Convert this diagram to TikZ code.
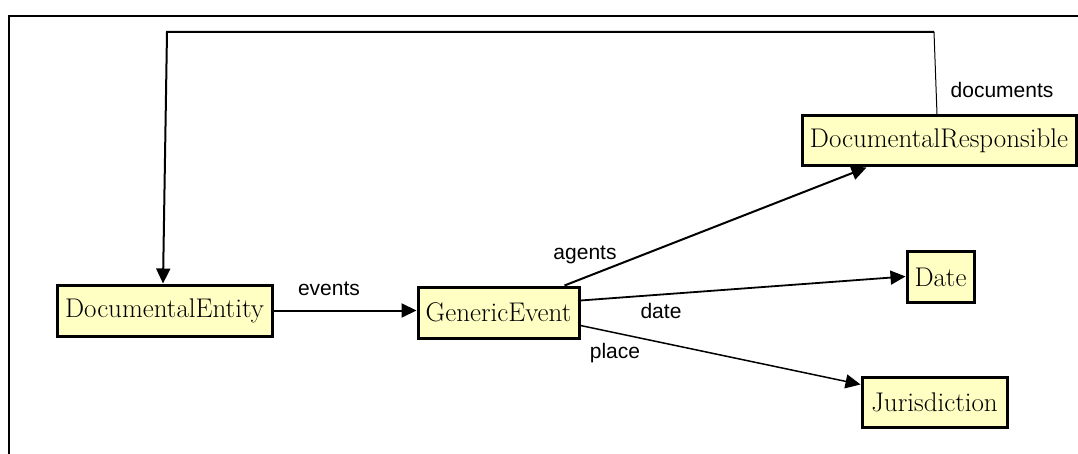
\documentclass[tikz,border=0pt]{standalone}
\usepackage{fontspec}
\newfontfamily\labfont{Liberation Sans}
\usetikzlibrary{arrows.meta,calc}
\definecolor{boxfill}{HTML}{FFFFC4}
\begin{document}
\begin{tikzpicture}[x=1pt,y=-1pt,
  cls/.style={draw=black,line width=3pt,fill=boxfill,inner sep=0pt,
    font=\fontsize{27}{30}\selectfont},
  conn/.style={line width=2pt,-{Triangle[length=15pt,width=14pt]}},
  lab/.style={font=\labfont\fontsize{21}{24}\selectfont,inner sep=0pt}]
\useasboundingbox (0,0) rectangle (1078,454);
% frame
\draw[line width=2pt] (9,454) -- (9,16) -- (1078,16);
% nodes
\node[cls,minimum width=215pt,minimum height=51pt] (de) at (164.5,310.5) {DocumentalEntity};
\node[cls,minimum width=161pt,minimum height=51pt] (ge) at (498.5,312.5) {GenericEvent};
\node[cls,minimum width=274pt,minimum height=50pt] (dr) at (939,141) {DocumentalResponsible};
\node[cls,minimum width=67pt,minimum height=50pt] (dt) at (940.5,277) {Date};
\node[cls,minimum width=145pt,minimum height=50pt] (ju) at (934.5,402) {Jurisdiction};
% documents
\coordinate (c1) at (934,32);
\coordinate (c2) at (167,32);
\draw[line width=1pt] ($(dr.north)+(-2,0)$) -- (c1);
\draw[conn] (c1) -- (c2) -- ($(de.north)+(-1.5,0)$);
\node[lab] (ldoc) at (1002,90) {documents};
% events
\draw[conn] (de.east) -- (de.east -| ge.west);
\node[lab] (lev) at (329,289) {events};
% agents
\draw[conn] ($(ge.north east)+(-16,0)$) -- ($(dr.south west)+(66,0)$);
\node[lab] (lag) at (585,255) {agents};
% date
\draw[conn,line width=1.8pt] ($(ge.north east)+(0,15)$) -- ($(dt.north west)+(0,26)$);
\node[lab] (lda) at (661,311) {date};
% place
\draw[conn,line width=1.5pt] ($(ge.north east)+(0,40)$) -- ($(ju.north west)+(0,9)$);
\node[lab] (lpl) at (615,353) {place};
\end{tikzpicture}
\end{document}
